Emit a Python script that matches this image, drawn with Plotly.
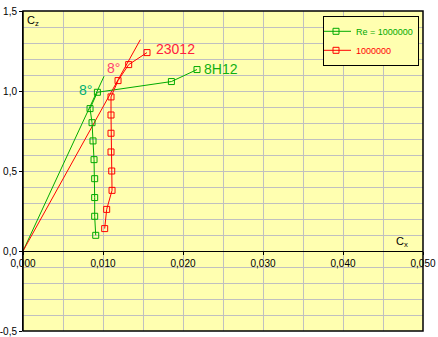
import plotly.graph_objects as go

# 8H12 polar (Re = 1000000)
g_cx = [0.00909, 0.00896, 0.00896, 0.00896, 0.00888, 0.00875, 0.00863, 0.00838, 0.0093, 0.01855, 0.02175]
g_cz = [0.098, 0.217, 0.334, 0.452, 0.571, 0.688, 0.802, 0.890, 0.992, 1.059, 1.134]
# 23012 polar (Re = 1000000)
r_cx = [0.01021, 0.01046, 0.01113, 0.01109, 0.0110, 0.0110, 0.0110, 0.0110, 0.01188, 0.01321, 0.0155]
r_cz = [0.140, 0.260, 0.379, 0.500, 0.619, 0.736, 0.850, 0.963, 1.065, 1.165, 1.240]
# tangents from origin
g_tan_x = [0.0, 0.01013]
g_tan_y = [0.0, 1.092]
r_tan_x = [0.0, 0.01467]
r_tan_y = [0.0, 1.321]
# 8 deg point index
idx8 = 8

x_ticks = [0.0, 0.01, 0.02, 0.03, 0.04, 0.05]
x_tick_text = ["0,000", "0,010", "0,020", "0,030", "0,040", "0,050"]
y_ticks = [-0.5, 0.0, 0.5, 1.0, 1.5]
y_tick_text = ["-0,5", "0,0", "0,5", "1,0", "1,5"]

GREEN = "#00AA00"
RED = "#FF0000"
BG = "#FFFFB0"
FONT = "Liberation Sans, Arial, sans-serif"

fig = go.Figure()
fig.add_trace(go.Scatter(x=g_tan_x, y=g_tan_y, mode="lines", line=dict(color=GREEN, width=1),
                         showlegend=False, hoverinfo="skip"))
fig.add_trace(go.Scatter(x=r_tan_x, y=r_tan_y, mode="lines", line=dict(color=RED, width=1),
                         showlegend=False, hoverinfo="skip"))
fig.add_trace(go.Scatter(x=g_cx, y=g_cz, mode="lines+markers",
                         name="<span style='color:#00AA00'>Re = 1000000</span>",
                         line=dict(color=GREEN, width=1),
                         marker=dict(symbol="square-open", size=6, color=GREEN, line=dict(width=1))))
fig.add_trace(go.Scatter(x=r_cx, y=r_cz, mode="lines+markers",
                         name="<span style='color:#FF0000'>1000000</span>",
                         line=dict(color=RED, width=1),
                         marker=dict(symbol="square-open", size=6, color=RED, line=dict(width=1))))

ann = [
    dict(x=g_cx[-1], y=g_cz[-1], text="8H12", xanchor="left", yanchor="middle", xshift=5, yshift=1,
         font=dict(color="#10B010", size=14, family=FONT)),
    dict(x=r_cx[-1], y=r_cz[-1], text="23012", xanchor="left", yanchor="middle", xshift=7, yshift=4,
         font=dict(color="#FF2040", size=14, family=FONT)),
    dict(x=g_cx[idx8], y=g_cz[idx8], text="8°", xanchor="right", yanchor="middle", xshift=-3, yshift=2,
         font=dict(color="#00B070", size=14, family=FONT)),
    dict(x=r_cx[idx8], y=r_cz[idx8], text="8°", xanchor="right", yanchor="bottom", xshift=4, yshift=3,
         font=dict(color="#FF4070", size=14, family=FONT)),
    dict(xref="paper", yref="paper", x=0, y=1, xanchor="left", yanchor="top", xshift=2, yshift=-1,
         text="C<sub>z</sub>", font=dict(color="black", size=11, family=FONT)),
    dict(xref="paper", yref="y", x=0.9675, y=0, xanchor="right", yanchor="bottom", yshift=0,
         text="C<sub>x</sub>", font=dict(color="black", size=11, family=FONT)),
]
for a in ann:
    a.setdefault("xref", "x")
    a.setdefault("yref", "y")
    a["showarrow"] = False

fig.update_layout(
    width=438, height=337,
    margin=dict(l=23, r=15, t=11, b=6, autoexpand=False),
    paper_bgcolor="white", plot_bgcolor=BG,
    font=dict(family=FONT, size=10, color="black"),
    annotations=ann,
    shapes=[dict(type="rect", xref="paper", yref="paper", x0=0, x1=1, y0=0, y1=1,
                 line=dict(color="black", width=1.5), layer="above")],
    legend=dict(x=0.99, y=0.985, xanchor="right", yanchor="top", bgcolor=BG,
                bordercolor="black", borderwidth=1, font=dict(size=9, family=FONT),
                itemwidth=30, tracegroupgap=0, indentation=-8),
    xaxis=dict(range=[0, 0.05], tickvals=x_ticks, ticktext=x_tick_text, anchor="free", position=0.25,
               automargin=False,
               showline=True, linecolor="black", linewidth=1, ticks="outside", ticklen=3,
               tickcolor="black", showgrid=True, gridcolor="#C0C0C0", gridwidth=1, zeroline=False,
               minor=dict(dtick=0.005, showgrid=True, gridcolor="#C0C0C0", ticks=""),
               tickfont=dict(size=10)),
    yaxis=dict(range=[-0.5, 1.5], tickvals=y_ticks, ticktext=y_tick_text, automargin=False,
               showline=True, linecolor="black", linewidth=1, ticks="outside", ticklen=3,
               tickcolor="black", showgrid=True, gridcolor="#C0C0C0", gridwidth=1, zeroline=False,
               minor=dict(dtick=0.1, showgrid=True, gridcolor="#C0C0C0", ticks=""),
               tickfont=dict(size=10)),
)

fig.write_html("out.html")
